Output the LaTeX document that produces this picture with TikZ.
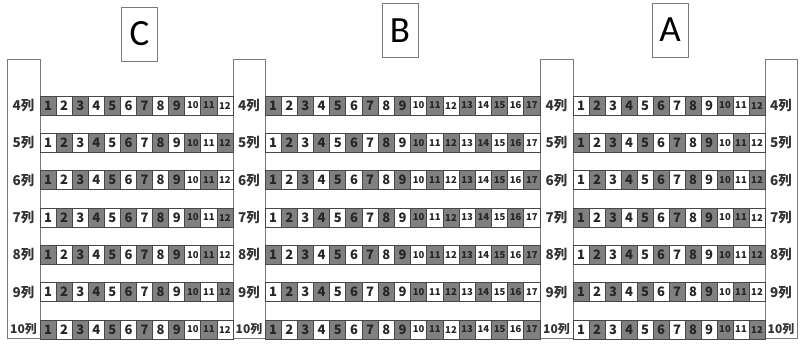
\documentclass[tikz,border=0pt]{standalone}
\usepackage{fontspec}
\setmainfont{Noto Sans CJK JP}
\newfontfamily\latinfont{Carlito}
\definecolor{seatgray}{HTML}{808080}
\definecolor{edgegray}{HTML}{7A7A7A}
\begin{document}
\begin{tikzpicture}[x=1pt,y=-1pt,
  seat/.style={draw=black!72, line width=0.8pt, minimum height=19pt, inner sep=0pt, outer sep=0pt, text=black!85},
  pillar/.style={draw=edgegray, line width=1.2pt, fill=white, anchor=north west, inner sep=0pt, minimum height=279pt},
  rowlabel/.style={text=black!80, inner sep=0pt},
  zonebox/.style={draw=edgegray, line width=0.9pt, minimum width=36pt, minimum height=54pt, inner sep=0pt, font=\latinfont\fontsize{37}{37}\selectfont}]
\useasboundingbox (0,0) rectangle (801,349);
\fill[white] (0,0) rectangle (801,349);
% zone letters
\node[zonebox] (zC) at (139.5,34) {C};
\node[zonebox] (zB) at (400,30.5) {B};
\node[zonebox] (zA) at (670,30) {A};
% pillars
\node[pillar, minimum width=33pt] (P1) at (7,59) {};
\node[pillar, minimum width=32pt] (P2) at (233,59) {};
\node[pillar, minimum width=33pt] (P3) at (540,59) {};
\node[pillar, minimum width=32pt] (P4) at (765,59) {};
% seats
\foreach \zn/\xa/\zw/\nn/\gp in {C/40/193/12/1, B/265/275/17/1, A/573/192/12/0} {
  \pgfmathsetmacro\sw{\zw/\nn}
  \foreach \r [count=\k from 0] in {4,...,10} {
    \pgfmathsetmacro\yc{105.5+37.33*\k}
    \foreach \s in {1,...,\nn} {
      \pgfmathsetmacro\xc{\xa+(\s-0.5)*\sw}
      \pgfmathtruncatemacro\pp{mod(\s+\r,2)}
      \ifnum\pp=\gp \def\fc{seatgray}\else\def\fc{white}\fi
      \ifnum\s>9 \def\fsz{9.5}\else\def\fsz{13}\fi
      \node[seat, fill=\fc, minimum width=\sw pt, font=\fontsize{\fsz}{\fsz}\selectfont\bfseries] (\zn-\r-\s) at (\xc,\yc) {\s};
    }
  }
}
% row labels
\foreach \pn/\px in {1/23.5, 2/249, 3/556.5, 4/781} {
  \foreach \r [count=\k from 0] in {4,...,10} {
    \pgfmathsetmacro\yc{105.5+37.33*\k}
    \ifnum\r>9 \def\lsz{12}\else\def\lsz{13.5}\fi
    \node[rowlabel, font=\fontsize{\lsz}{\lsz}\selectfont\bfseries] (L\pn-\r) at (\px,\yc) {\r 列};
  }
}
\end{tikzpicture}
\end{document}
